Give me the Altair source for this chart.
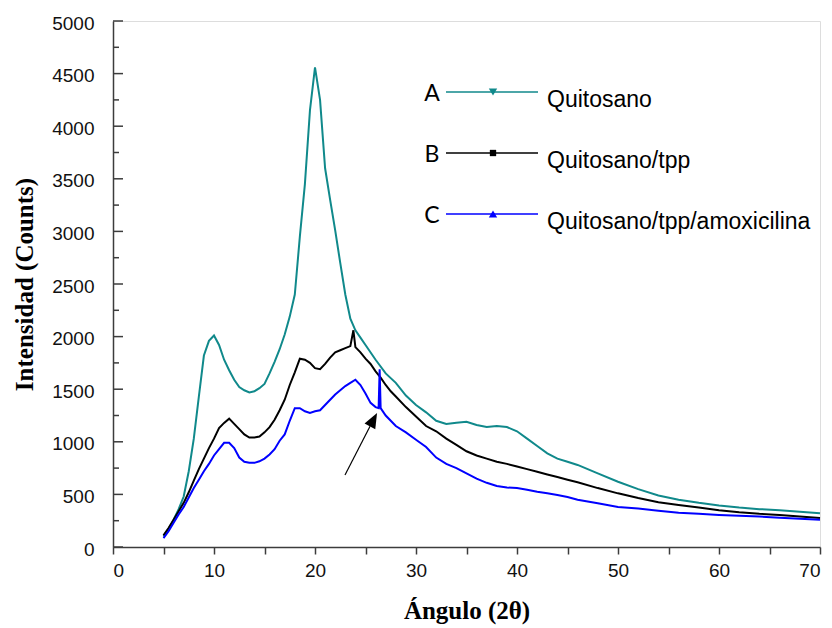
import altair as alt
import pandas as pd

# ---- data (2-theta in degrees, counts) ----
angle_a = [5, 5.5, 6, 6.5, 7, 7.5, 8, 8.5, 9, 9.5, 10, 10.5, 11, 11.5, 12, 12.5, 13, 13.5, 14, 14.5,
           15, 15.5, 16, 16.5, 17, 17.5, 18, 18.5, 19, 19.5, 20, 20.5, 21, 21.5, 22, 22.5, 23, 23.5,
           24, 24.5, 25, 26, 27, 28, 29, 30, 31, 32, 33, 34, 35, 36, 37, 38, 39, 40, 41, 42, 43, 44,
           45, 46, 48, 50, 52, 54, 56, 58, 60, 62, 64, 66, 68, 70]
int_a = [100, 170, 260, 360, 480, 720, 1030, 1430, 1820, 1960, 2010, 1920, 1780, 1680, 1590, 1520,
         1490, 1470, 1480, 1510, 1550, 1650, 1760, 1880, 2020, 2190, 2400, 2950, 3450, 4150, 4560,
         4250, 3600, 3300, 3010, 2700, 2400, 2170, 2060, 1990, 1920, 1780, 1650, 1560, 1440, 1350,
         1280, 1200, 1170, 1180, 1190, 1160, 1140, 1150, 1140, 1100, 1030, 960, 890, 840, 810, 780,
         700, 620, 550, 490, 450, 420, 395, 375, 360, 350, 335, 320]

angle_b = [5, 5.5, 6, 6.5, 7, 7.5, 8, 8.5, 9, 9.5, 10, 10.5, 11, 11.5, 12, 12.5, 13, 13.5, 14, 14.5,
           15, 15.5, 16, 16.5, 17, 17.5, 18, 18.5, 19, 19.5, 20, 20.5, 21, 21.5, 22, 22.5, 23, 23.5,
           23.8, 24, 24.5, 25, 25.5, 26, 26.5, 27, 27.5, 28, 29, 30, 31, 32, 33, 34, 35, 36, 37, 38,
           39, 40, 41, 42, 43, 44, 45, 46, 48, 50, 52, 54, 56, 58, 60, 62, 64, 66, 68, 70]
int_b = [110, 180, 260, 340, 420, 520, 630, 740, 840, 940, 1030, 1130, 1180, 1220, 1170, 1120, 1070,
         1040, 1040, 1050, 1090, 1140, 1210, 1300, 1400, 1540, 1660, 1790, 1780, 1750, 1700, 1690,
         1740, 1800, 1850, 1870, 1890, 1910, 2060, 1900, 1850, 1790, 1740, 1670, 1610, 1540, 1480,
         1430, 1330, 1240, 1150, 1100, 1030, 970, 910, 870, 840, 810, 790, 765, 740, 715, 690, 665,
         640, 615, 560, 510, 465, 425, 400, 375, 350, 330, 315, 305, 290, 275]

angle_c = [5, 5.5, 6, 6.5, 7, 7.5, 8, 8.5, 9, 9.5, 10, 10.5, 11, 11.5, 12, 12.5, 13, 13.5, 14, 14.5,
           15, 15.5, 16, 16.5, 17, 17.5, 18, 18.5, 19, 19.5, 20, 20.5, 21, 21.5, 22, 22.5, 23, 23.5,
           24, 24.5, 25, 25.5, 26, 26.3, 26.4, 26.5, 27, 27.5, 28, 29, 30, 31, 32, 33, 34, 35, 36, 37,
           38, 39, 40, 41, 42, 43, 44, 45, 46, 48, 50, 52, 54, 56, 58, 60, 62, 64, 66, 68, 70]
int_c = [85, 150, 230, 310, 380, 470, 560, 640, 720, 790, 870, 930, 990, 990, 940, 850, 810, 800,
         800, 815, 840, 880, 930, 1010, 1070, 1200, 1320, 1320, 1290, 1275, 1290, 1300, 1350, 1400,
         1450, 1490, 1530, 1560, 1590, 1540, 1460, 1370, 1330, 1320, 1690, 1320, 1250, 1200, 1150,
         1090, 1020, 950, 850, 790, 750, 700, 650, 610, 580, 565, 560, 545, 525, 510, 495, 475, 450,
         415, 380, 365, 345, 325, 315, 305, 298, 290, 278, 268, 258]

series_names = ["Quitosano", "Quitosano/tpp", "Quitosano/tpp/amoxicilina"]
letters = ["A", "B", "C"]
colors = ["#10898B", "#000000", "#0000FF"]
shapes = ["triangle-down", "square", "triangle-up"]

y_major = [0, 500, 1000, 1500, 2000, 2500, 3000, 3500, 4000, 4500, 5000]
y_minor = [250, 750, 1250, 1750, 2250, 2750, 3250, 3750, 4250, 4750]
x_ticks = [0, 5, 10, 15, 20, 25, 30, 35, 40, 45, 50, 55, 60, 65, 70]

# arrow annotation: tail -> head base, and head centre
arrow_tail = [22.97, 684]
arrow_base = [25.45, 1148]
arrow_head = [25.79, 1211]

# ---- build tables ----
frames = []
for name, xs, ys in [(series_names[0], angle_a, int_a),
                     (series_names[1], angle_b, int_b),
                     (series_names[2], angle_c, int_c)]:
    frames.append(pd.DataFrame({"angle": xs, "intensity": ys, "serie": name}))
df = pd.concat(frames, ignore_index=True)

x_scale = alt.Scale(domain=[0, 70], nice=False)
y_scale = alt.Scale(domain=[0, 5000], nice=False)
axis_color = "#3c3c3c"

x_axis = alt.Axis(
    values=x_ticks, labelExpr="datum.value % 10 === 0 ? datum.label : ''",
    grid=False, tickSize=7, tickColor=axis_color, tickWidth=1.5,
    domainColor=axis_color, domainWidth=1.5,
    labelFont="Liberation Sans", labelFontSize=19, labelColor="#111111", labelPadding=7,
    title="Ángulo (2θ)", titleFont="Liberation Serif", titleFontWeight="bold",
    titleFontSize=25, titleColor="#000000", titlePadding=18,
)
y_axis = alt.Axis(
    values=y_major, format="d", grid=False, ticks=False,
    domainColor=axis_color, domainWidth=1.5,
    labelFont="Liberation Sans", labelFontSize=19, labelColor="#111111", labelPadding=19,
    labelOffset=2,
    title="Intensidad (Counts)", titleFont="Liberation Serif", titleFontWeight="bold",
    titleFontSize=25, titleColor="#000000", titlePadding=14,
)

lines = alt.Chart(df).mark_line(strokeWidth=2.0).encode(
    x=alt.X("angle:Q", scale=x_scale, axis=x_axis),
    y=alt.Y("intensity:Q", scale=y_scale, axis=y_axis),
    color=alt.Color("serie:N", scale=alt.Scale(domain=series_names, range=colors), legend=None),
)

# inward y ticks
major_ticks = alt.Chart(pd.DataFrame({"v": y_major})).mark_rule(
    color=axis_color, strokeWidth=1.5).encode(
    x=alt.value(0), x2=alt.value(10), y=alt.Y("v:Q", scale=y_scale, axis=y_axis))
minor_ticks = alt.Chart(pd.DataFrame({"v": y_minor})).mark_rule(
    color=axis_color, strokeWidth=1.5).encode(
    x=alt.value(0), x2=alt.value(6), y=alt.Y("v:Q", scale=y_scale, axis=y_axis))

# arrow
arrow_df = pd.DataFrame({"x": [arrow_tail[0]], "y": [arrow_tail[1]],
                         "x2": [arrow_base[0]], "y2": [arrow_base[1]],
                         "hx": [arrow_head[0]], "hy": [arrow_head[1]]})
arrow_line = alt.Chart(arrow_df).mark_rule(color="black", strokeWidth=1.2).encode(
    x=alt.X("x:Q", scale=x_scale, axis=x_axis), y=alt.Y("y:Q", scale=y_scale, axis=y_axis),
    x2="x2:Q", y2="y2:Q")
arrow_head_mk = alt.Chart(arrow_df).mark_point(
    shape="M0,-1L0.8,1L-0.8,1Z", filled=True, color="black", size=230, angle=28,
    opacity=1).encode(
    x=alt.X("hx:Q", scale=x_scale, axis=x_axis), y=alt.Y("hy:Q", scale=y_scale, axis=y_axis))

# legend (drawn inside the plot area)
legend_layers = []
row_y = [71, 132, 193]
for i in range(3):
    ldf = pd.DataFrame({"serie": [series_names[i]], "letter": [letters[i]]})
    base = alt.Chart(ldf)
    legend_layers.append(base.mark_rule(color=colors[i], strokeWidth=1.7).encode(
        x=alt.value(333), x2=alt.value(425), y=alt.value(row_y[i])))
    legend_layers.append(base.mark_point(
        shape=shapes[i], filled=True, color=colors[i], opacity=1,
        size=70 if i != 1 else 40).encode(x=alt.value(380), y=alt.value(row_y[i])))
    legend_layers.append(base.mark_text(
        font="Lato", fontSize=23, color="black", align="center", baseline="middle").encode(
        x=alt.value(319), y=alt.value(row_y[i] + 2), text="letter:N"))
    legend_layers.append(base.mark_text(
        font="Liberation Sans", fontSize=23, color="black", align="left", baseline="middle").encode(
        x=alt.value(434), y=alt.value(row_y[i] + 8), text="serie:N"))

chart = alt.layer(minor_ticks, major_ticks, lines, arrow_line, arrow_head_mk,
                  *legend_layers).properties(
    width=707, height=526,
    padding={"left": 113, "top": 21, "right": 12, "bottom": 81},
    autosize="none",
).configure_view(stroke=None).configure(background="white")

chart.save("out.html", embed_options={"renderer": "svg", "actions": False})
